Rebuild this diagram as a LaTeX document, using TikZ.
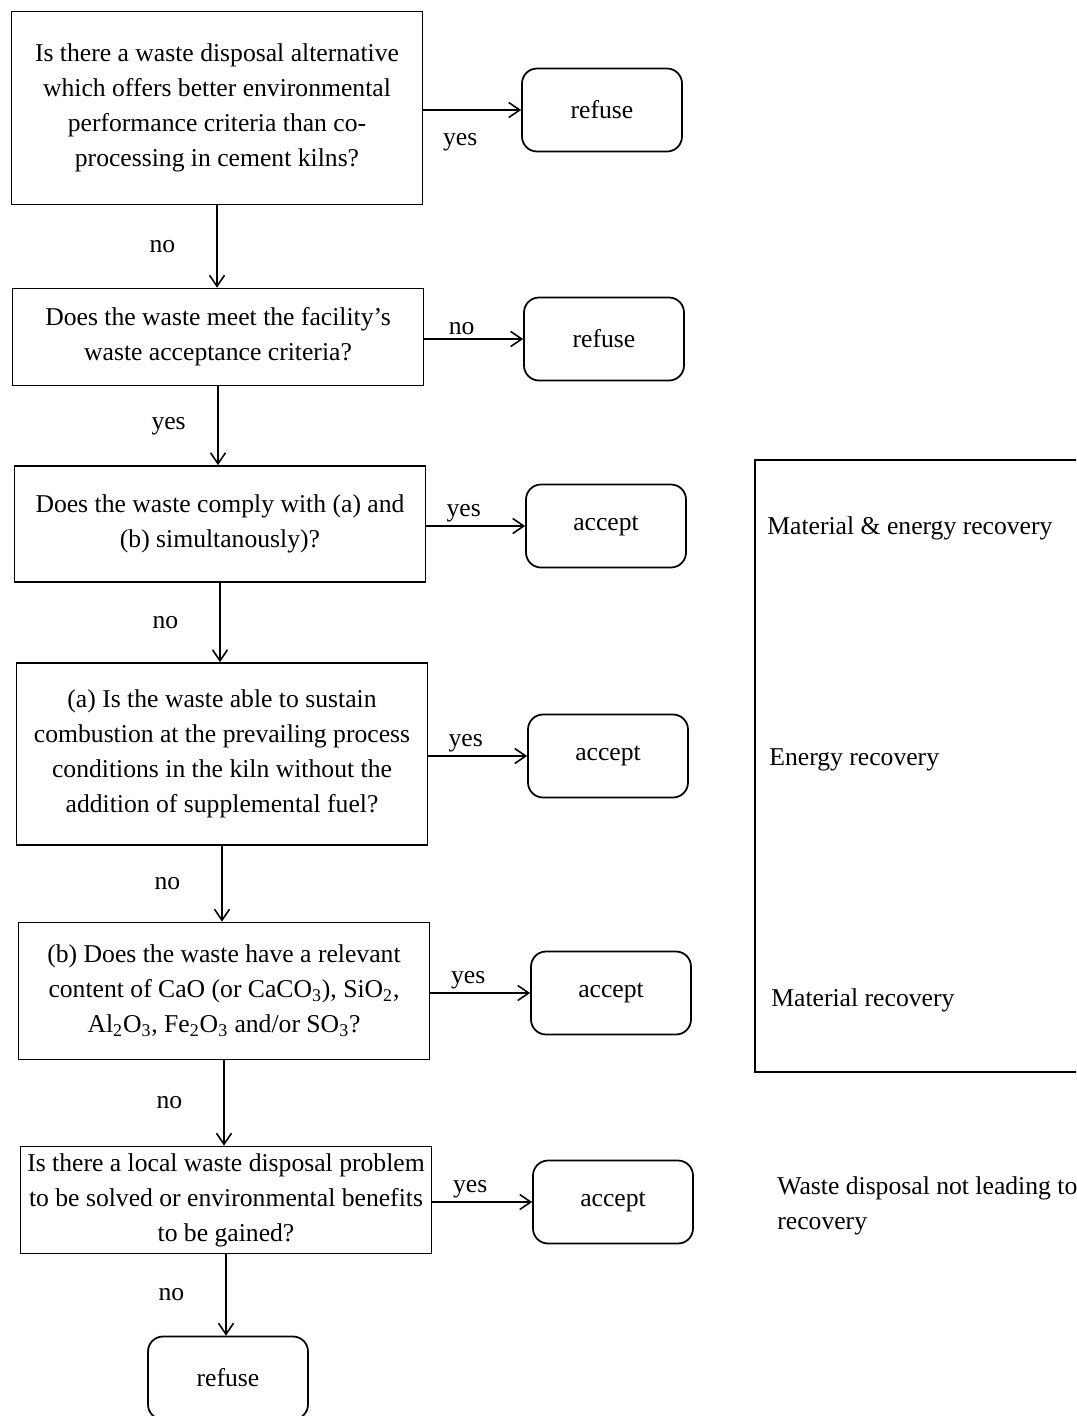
\documentclass[tikz,border=0pt]{standalone}
\usepackage{fontspec}
\setmainfont{Liberation Serif}
\usetikzlibrary{arrows.meta}

\tikzset{
  question/.style = {draw, line width=1pt, align=center, minimum width=8.22cm, inner sep=0pt},
  answer/.style = {draw, line width=1pt, rounded corners=0.3cm, minimum width=3.2cm, minimum height=1.66cm},
  flow/.style = {-{Straight Barb[length=2.2mm,width=3mm]}, line width=0.9pt},
  lbl/.style = {inner sep=2pt, xshift=-0.24cm},
  vlbl/.style = {inner sep=2pt},
  every node/.style = {font=\fontsize{14.6pt}{19.9pt}\selectfont},
}

\begin{document}
\begin{tikzpicture}[x=0.02cm, y=-0.02cm]
\clip (0,0) rectangle (1076,1416);

% questions
\path (217,108) node[question, minimum height=3.86cm] (q1) {Is there a waste disposal alternative\\which offers better environmental\\performance criteria than co-\\processing in cement kilns?};
\path (218,337) node[question, minimum height=1.94cm] (q2) {Does the waste meet the facility's\\waste acceptance criteria?};
\path (220,524) node[question, minimum height=2.32cm] (q3) {Does the waste comply with (a) and\\(b) simultanously)?};
\path (222,754) node[question, minimum height=3.64cm] (q4) {(a) Is the waste able to sustain\\combustion at the prevailing process\\conditions in the kiln without the\\addition of supplemental fuel?};
\path (224,991) node[question, minimum height=2.74cm] (q5) {(b) Does the waste have a relevant\\content of CaO (or CaCO\textsubscript{3}), SiO\textsubscript{2},\\Al\textsubscript{2}O\textsubscript{3}, Fe\textsubscript{2}O\textsubscript{3} and/or SO\textsubscript{3}?};
\path (226,1200) node[question, minimum height=2.14cm] (q6) {Is there a local waste disposal problem\\to be solved or environmental benefits\\to be gained?};

% outcomes
\path (602,110) node[answer] (r1) {refuse};
\path (604,339) node[answer] (r2) {refuse};
\path (606,526) node[answer] (a1) {accept};
\path (608,756) node[answer] (a2) {accept};
\path (611,993) node[answer] (a3) {accept};
\path (613,1202) node[answer] (a4) {accept};
\path (228,1378) node[answer] (r3) {refuse};

% horizontal arrows
\draw[flow] (q1.east |- r1) -- node[lbl, below=11pt] {yes} (r1);
\draw[flow] (q2.east |- r2) -- node[lbl, above] {no} (r2);
\draw[flow] (q3.east |- a1) -- node[lbl, above] {yes} (a1);
\draw[flow] (q4.east |- a2) -- node[lbl, above] {yes} (a2);
\draw[flow] (q5.east |- a3) -- node[lbl, above] {yes} (a3);
\draw[flow] (q6.east |- a4) -- node[lbl, above] {yes} (a4);

% vertical arrows
\draw[flow] (q1.south) -- node[vlbl, left=0.75cm] {no} (q1.south |- q2.north);
\draw[flow] (q2.south) -- node[vlbl, left=0.56cm] {yes} (q2.south |- q3.north);
\draw[flow] (q3.south) -- node[vlbl, left=0.75cm] {no} (q3.south |- q4.north);
\draw[flow] (q4.south) -- node[vlbl, left=0.75cm] {no} (q4.south |- q5.north);
\draw[flow] (q5.south) -- node[vlbl, left=0.75cm] {no} (q5.south |- q6.north);
\draw[flow] (q6.south) -- node[vlbl, left=0.75cm] {no} (q6.south |- r3.north);

% recovery categories
\draw[line width=1pt] (755,460) rectangle (1110,1072);
\path (767,528) node[anchor=west, inner sep=0pt] (mer) {Material \& energy recovery};
\path (769,760) node[anchor=west, inner sep=0pt] (er) {Energy recovery};
\path (771,1000) node[anchor=west, inner sep=0pt] (mr) {Material recovery};
\path (777,1206) node[anchor=west, inner sep=0pt, align=left] (wd) {Waste disposal not leading to\\recovery};
\end{tikzpicture}
\end{document}
